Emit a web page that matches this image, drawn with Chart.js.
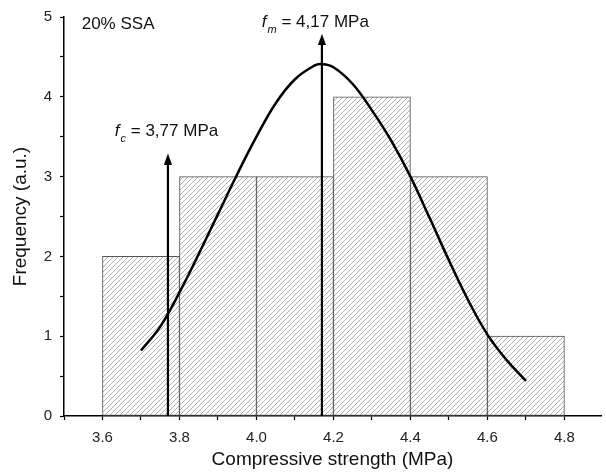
<!DOCTYPE html>
<html>
<head>
<meta charset="utf-8">
<script src="https://cdn.jsdelivr.net/npm/chart.js@4.4.0/dist/chart.umd.min.js"></script>
<style>
html, body { margin: 0; padding: 0; background: #fff; }
</style>
</head>
<body>
<canvas id="chart" width="606" height="474"></canvas>
<script>
// histogram bins (centre of each 0.2 MPa class) and counts
const binCenters = [3.7, 3.9, 4.1, 4.3, 4.5, 4.7];
const binCounts = [2, 3, 3, 4, 3, 1];

// fitted normal curve
const curveX = [3.70, 3.75, 3.80, 3.85, 3.90, 3.95, 4.00, 4.05, 4.10, 4.15, 4.17, 4.20, 4.25, 4.30, 4.35, 4.40, 4.45, 4.50, 4.55, 4.60, 4.65, 4.70];
const curveY = [0.82, 1.12, 1.55, 2.03, 2.53, 3.03, 3.50, 3.92, 4.22, 4.39, 4.41, 4.37, 4.16, 3.83, 3.45, 3.00, 2.48, 1.95, 1.45, 1.02, 0.70, 0.44];

// characteristic (fc) and mean (fm) strength arrows
const fcArrowX = [3.77, 3.77];
const fcArrowY = [0, 3.22];
const fmArrowX = [4.17, 4.17];
const fmArrowY = [0, 4.72];

const xTicks = [3.5, 3.6, 3.7, 3.8, 3.9, 4.0, 4.1, 4.2, 4.3, 4.4, 4.5, 4.6, 4.7, 4.8];
const binEdges = [3.6, 3.8, 4.0, 4.2, 4.4, 4.6, 4.8];
const yTicks = [0, 0.5, 1, 1.5, 2, 2.5, 3, 3.5, 4, 4.5, 5];

const panelLabel = '20% SSA';
const fcLabel = ['f', 'c', ' = 3,77 MPa'];
const fmLabel = ['f', 'm', ' = 4,17 MPa'];

const FONT = '"Liberation Sans", Arial, sans-serif';
const X_MIN = 3.5, X_MAX = 4.895;

// hatch pattern for the bars
function makeHatch() {
    const c = document.createElement('canvas');
    c.width = 5; c.height = 5;
    const g = c.getContext('2d');
    g.fillStyle = '#fff';
    g.fillRect(0, 0, 5, 5);
    g.strokeStyle = '#999';
    g.lineWidth = 0.8;
    g.beginPath();
    g.moveTo(0, 5); g.lineTo(5, 0);
    g.moveTo(-1, 1); g.lineTo(1, -1);
    g.moveTo(4, 6); g.lineTo(6, 4);
    g.stroke();
    return g.createPattern(c, 'repeat');
}

// arrow head used as point style
function makeHead() {
    const c = document.createElement('canvas');
    c.width = 8; c.height = 11;
    const g = c.getContext('2d');
    g.fillStyle = '#000';
    g.beginPath();
    g.moveTo(4, 0); g.lineTo(8, 11); g.lineTo(0, 11);
    g.closePath();
    g.fill();
    return c;
}
const head = makeHead();

const pts = (xs, ys) => xs.map((v, i) => ({x: v, y: ys[i]}));

function arrowDataset(xs, ys) {
    return {
        type: 'line',
        data: pts(xs, ys),
        borderColor: '#000',
        borderWidth: 2.2,
        pointRadius: [0, 5],
        pointStyle: (c) => c.dataIndex === 1 ? head : 'circle',
        pointBackgroundColor: '#000',
        pointBorderWidth: 0,
        order: 1
    };
}

// text labels placed in data coordinates
const labelPlugin = {
    id: 'labels',
    afterDatasetsDraw(chart) {
        const {ctx, scales: {x, y}} = chart;
        ctx.save();
        ctx.fillStyle = '#111';
        ctx.textBaseline = 'alphabetic';
        ctx.textAlign = 'left';
        ctx.font = '17px ' + FONT;
        ctx.fillText(panelLabel, x.getPixelForValue(3.546), y.getPixelForValue(4.85));

        const drawSub = (parts, vx, vy) => {
            let px = x.getPixelForValue(vx);
            const py = y.getPixelForValue(vy);
            ctx.font = 'italic 17px ' + FONT;
            ctx.fillText(parts[0], px, py);
            px += ctx.measureText(parts[0]).width + 1;
            ctx.font = 'italic 11px ' + FONT;
            ctx.fillText(parts[1], px, py + 6);
            px += ctx.measureText(parts[1]).width;
            ctx.font = '17px ' + FONT;
            ctx.fillText(parts[2], px, py);
        };
        drawSub(fcLabel, 3.632, 3.51);
        drawSub(fmLabel, 4.014, 4.875);
        ctx.restore();
    }
};

new Chart(document.getElementById('chart'), {
    type: 'bar',
    data: {
        datasets: [
            arrowDataset(fcArrowX, fcArrowY),
            arrowDataset(fmArrowX, fmArrowY),
            {
                type: 'line',
                data: pts(curveX, curveY),
                borderColor: '#000',
                borderWidth: 2.5,
                pointRadius: 0,
                tension: 0.4,
                order: 2
            },
            {
                type: 'bar',
                xAxisID: 'xb',
                data: pts(binCenters, binCounts),
                backgroundColor: makeHatch(),
                borderColor: '#555',
                borderWidth: 1,
                borderSkipped: false,
                barPercentage: 1,
                categoryPercentage: 1,
                order: 3
            }
        ]
    },
    options: {
        responsive: false,
        animation: false,
        layout: { padding: { top: 16, right: 0, left: 0, bottom: 0 } },
        plugins: {
            legend: { display: false },
            tooltip: { enabled: false }
        },
        scales: {
            xb: {
                type: 'linear',
                display: false,
                position: 'bottom',
                min: X_MIN,
                max: X_MAX,
                offset: false,
                afterBuildTicks: (s) => { s.ticks = binEdges.map(v => ({value: v})); }
            },
            x: {
                type: 'linear',
                min: X_MIN,
                max: X_MAX,
                offset: false,
                afterBuildTicks: (s) => { s.ticks = xTicks.map(v => ({value: v})); },
                afterFit: (s) => { s.height = 58; },
                ticks: {
                    autoSkip: false,
                    maxRotation: 0,
                    padding: 9,
                    color: '#222',
                    font: { family: FONT, size: 15 },
                    callback: (v) => Math.round(v * 10) % 2 === 0 ? v.toFixed(1) : ''
                },
                grid: {
                    offset: false,
                    drawOnChartArea: false,
                    drawTicks: true,
                    tickLength: 4,
                    tickColor: '#000',
                    tickWidth: 1.2
                },
                border: { display: true, color: '#000', width: 1.5 },
                title: {
                    display: true,
                    text: 'Compressive strength (MPa)',
                    color: '#111',
                    font: { family: FONT, size: 19 },
                    padding: { top: 0, bottom: 3 }
                }
            },
            y: {
                min: 0,
                max: 5,
                afterBuildTicks: (s) => { s.ticks = yTicks.map(v => ({value: v})); },
                afterFit: (s) => { s.width = 64; },
                ticks: {
                    padding: 8,
                    color: '#222',
                    font: { family: FONT, size: 15 },
                    callback: (v) => Number.isInteger(v) ? String(v) : ''
                },
                grid: {
                    drawOnChartArea: false,
                    drawTicks: true,
                    tickLength: 4,
                    tickColor: '#000',
                    tickWidth: 1.2
                },
                border: { display: true, color: '#000', width: 1.5 },
                title: {
                    display: true,
                    text: 'Frequency (a.u.)',
                    color: '#111',
                    font: { family: FONT, size: 19 },
                    padding: { top: 9, bottom: 0 }
                }
            }
        }
    },
    plugins: [labelPlugin]
});
</script>
</body>
</html>
